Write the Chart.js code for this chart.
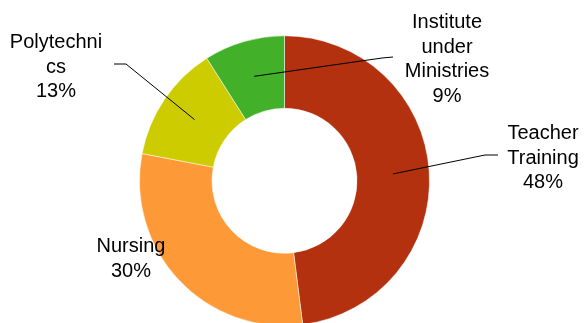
<!DOCTYPE html>
<html>
<head>
<meta charset="utf-8">
<script src="https://cdn.jsdelivr.net/npm/chart.js@4/dist/chart.umd.min.js"></script>
<style>
  html, body { margin: 0; padding: 0; background: #fff; overflow: hidden; }
  #wrap { position: relative; width: 584px; height: 326px; }
</style>
</head>
<body>
<div id="wrap"><canvas id="chart"></canvas></div>
<script>
// --- data ---
const categories = ['Teacher Training', 'Nursing', 'Polytechnics', 'Institute under Ministries'];
const shares = [48, 30, 13, 9];
// how each label wraps in the picture
const labelLines = [
    ['Teacher', 'Training'],
    ['Nursing'],
    ['Polytechni', 'cs'],
    ['Institute', 'under', 'Ministries']
];
const sliceColors = ['#B3310E', '#FD9A37', '#CCCC00', '#43B02A'];

// --- label layout (text centre x, first baseline y, optional elbow of leader line) ---
const labelLayout = [
    { x: 543, y: 139, elbow: [485, 155], end: [498, 155] },
    { x: 131, y: 252 },
    { x: 56, y: 48, elbow: [126, 64], end: [114, 64] },
    { x: 447, y: 28, elbow: [382, 58], end: [393, 57] }
];

const calloutPlugin = {
    id: 'callouts',
    afterDatasetsDraw(chart) {
        const ctx = chart.ctx;
        const arcs = chart.getDatasetMeta(0).data;
        ctx.save();
        ctx.font = '20px "Liberation Sans", Arial, sans-serif';
        ctx.fillStyle = '#000';
        ctx.textAlign = 'center';
        ctx.textBaseline = 'alphabetic';
        arcs.forEach((arc, i) => {
            const lay = labelLayout[i];
            const lines = labelLines[i].concat([shares[i] + '%']);
            lines.forEach((t, k) => ctx.fillText(t, lay.x, lay.y + k * 24.7));
            if (lay.elbow) {
                const p = arc.getCenterPoint();
                ctx.beginPath();
                ctx.strokeStyle = '#000';
                ctx.lineWidth = 1;
                ctx.moveTo(p.x, p.y);
                ctx.lineTo(lay.elbow[0], lay.elbow[1]);
                ctx.lineTo(lay.end[0], lay.end[1]);
                ctx.stroke();
            }
        });
        ctx.restore();
    }
};

new Chart(document.getElementById('chart'), {
    type: 'doughnut',
    data: {
        labels: categories,
        datasets: [{
            data: shares,
            backgroundColor: sliceColors,
            borderColor: '#ffffff',
            borderWidth: 0.5
        }]
    },
    options: {
        responsive: true,
        maintainAspectRatio: false,
        animation: false,
        cutout: '50%',
        layout: { padding: { top: 35.5, bottom: 0, left: 0, right: 15 } },
        plugins: {
            legend: { display: false },
            tooltip: { enabled: false }
        },
        events: []
    },
    plugins: [calloutPlugin]
});
</script>
</body>
</html>
